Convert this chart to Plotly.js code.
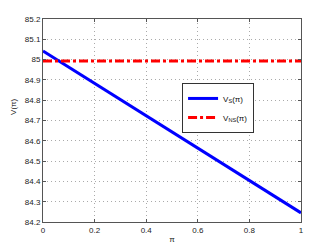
<!DOCTYPE html>
<html><head><meta charset="utf-8">
<script src="https://cdn.plot.ly/plotly-3.0.1.min.js"></script>
<style>html,body{margin:0;padding:0;background:#fff}#c{width:332px;height:250px}</style>
</head><body><div id="c"></div>
<script>
const piVals = [0, 1];
const vS = [85.042, 84.245];
const vNS = [84.993, 84.993];
const xTicks = [0, 0.2, 0.4, 0.6, 0.8, 1];
const xTickText = ['0', '0.2', '0.4', '0.6', '0.8', '1'];
const yTicks = [84.2, 84.3, 84.4, 84.5, 84.6, 84.7, 84.8, 84.9, 85, 85.1, 85.2];
const yTickText = ['84.2', '84.3', '84.4', '84.5', '84.6', '84.7', '84.8', '84.9', '85', '85.1', '85.2'];

const FONT = 'Liberation Sans, Arial, sans-serif';
const traces = [
  {x: piVals, y: vS, mode: 'lines', name: 'V<sub>S</sub>(π)',
   line: {color: '#0000ff', width: 3}},
  {x: piVals, y: vNS, mode: 'lines', name: 'V<sub>NS</sub>(π)',
   line: {color: '#ff0000', width: 3, dash: '9px,3px,3px,3px'}}
];
const axisCommon = {
  showline: true, mirror: 'ticks', linecolor: '#555', linewidth: 1,
  ticks: 'inside', ticklen: 3, tickcolor: '#555',
  showgrid: true, gridcolor: '#aaa', griddash: '1px,3px', gridwidth: 1,
  zeroline: false, tickfont: {family: FONT, size: 8, color: '#222'}
};
const layout = {
  width: 332, height: 250,
  margin: {l: 43, r: 31, t: 19, b: 28},
  paper_bgcolor: '#fff', plot_bgcolor: '#fff',
  showlegend: true,
  legend: {x: 0.539, y: 0.685, xanchor: 'left', yanchor: 'top',
    bordercolor: '#333', borderwidth: 1, bgcolor: '#fff',
    font: {family: FONT, size: 8, color: '#111'},
    tracegroupgap: 0, itemwidth: 30},
  xaxis: Object.assign({}, axisCommon, {range: [0, 1], tickvals: xTicks, ticktext: xTickText,
    title: {text: 'π', font: {family: FONT, size: 8, color: '#222'}, standoff: 2}}),
  yaxis: Object.assign({}, axisCommon, {range: [84.2, 85.2], tickvals: yTicks, ticktext: yTickText}),
  annotations: [{text: 'V(π)', xref: 'paper', yref: 'paper', x: 0, y: 0.567, xshift: -29,
    xanchor: 'center', yanchor: 'middle',
    textangle: -90, showarrow: false, font: {family: FONT, size: 8, color: '#222'}}]
};
Plotly.newPlot('c', traces, layout, {displayModeBar: false, staticPlot: true});
</script></body></html>
